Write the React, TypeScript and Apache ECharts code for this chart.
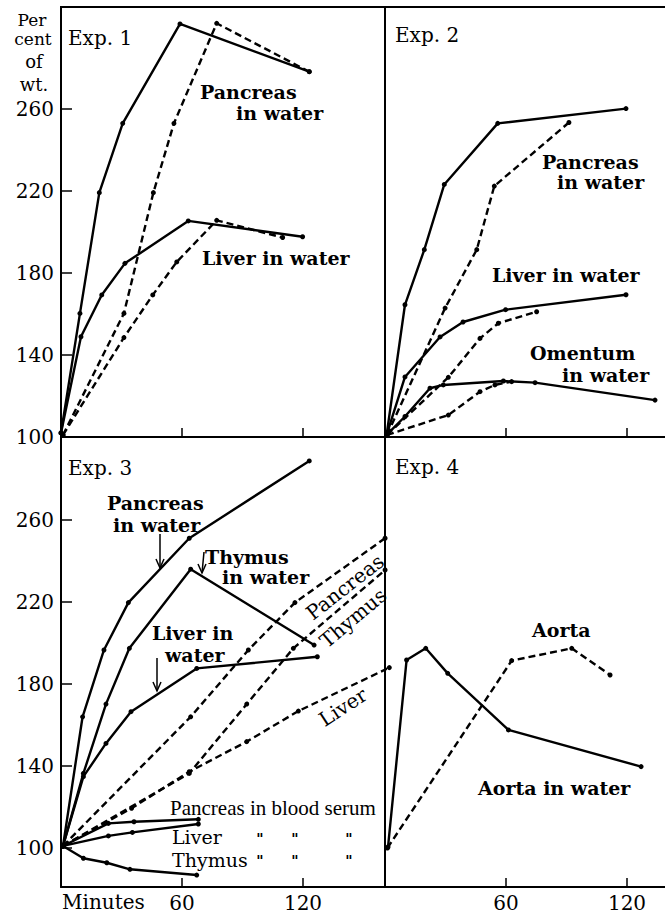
import React, { useEffect, useRef } from "react";
import * as echarts from "echarts";

// ---- Data: [minutes, percent of original weight] ----
// Exp. 1
const exp1PancreasWater = [[0, 102], [9.4, 160.3], [19, 219.2], [30.6, 253], [59, 301.5], [123.1, 278.2]];
const exp1PancreasDashed = [[1, 101], [31.2, 160.3], [45.8, 219.2], [56, 253], [77.2, 301.8], [123.1, 278.2]];
const exp1LiverWater = [[0, 102], [9.9, 148.9], [20.2, 169.3], [31.7, 184.7], [63.1, 205.4], [119.8, 197.7]];
const exp1LiverDashed = [[1, 101], [31.2, 148.5], [45.5, 169.3], [57.4, 185.4], [77.2, 205.7], [109.9, 197.3]];
// Exp. 2
const exp2PancreasWater = [[0.8, 101], [9.9, 164.5], [19.5, 191.4], [29.4, 223.2], [55.9, 253], [119.5, 260.2]];
const exp2PancreasDashed = [[1, 101], [29.8, 162.9], [45.5, 191.4], [54.2, 222.4], [91.2, 253.4]];
const exp2LiverWater = [[0.8, 101], [9.9, 129.3], [27.3, 148.8], [38.7, 156.1], [59.8, 162.1], [119.5, 169.4]];
const exp2LiverDashed = [[1, 101], [31.4, 129.1], [47.1, 148.1], [56.2, 155.5], [75.2, 161.1]];
const exp2OmentumWater = [[0.8, 101], [9.9, 110], [22.3, 123.8], [28.9, 125.4], [58.7, 127.3], [74.4, 126.5], [133.9, 118]];
const exp2OmentumDashed = [[1, 101], [31.4, 110.7], [47.1, 122.1], [54.5, 125.4], [62.8, 127]];
// Exp. 3
const exp3PancreasWater = [[1, 101], [10.7, 164], [21.3, 196.6], [33.4, 219.7], [63.6, 251.1], [123.1, 288.8]];
const exp3ThymusWater = [[1, 101], [11.1, 136.4], [22.3, 170.2], [33.9, 197.4], [64.3, 236], [125.5, 199]];
const exp3LiverWater = [[1, 101], [11.1, 134.8], [22.3, 151], [34.7, 166.5], [67.3, 187.6], [127.1, 193.3]];
const exp3PancreasDashed = [[1, 101], [64.3, 164], [92.9, 196.6], [116, 219.7], [160.7, 251.1]];
const exp3ThymusDashed = [[1, 101], [63.6, 136.4], [92.1, 170.2], [115.2, 197.4], [160.7, 235.6]];
const exp3LiverDashed = [[1, 101], [35, 119.4], [63.6, 137.2], [92.1, 151.9], [117.7, 166.8], [162.8, 188]];
const exp3PancreasSerum = [[1, 101], [23.5, 112], [36.2, 112.8], [68.1, 114]];
const exp3LiverSerum = [[1, 101], [23.5, 105.9], [35.4, 107.6], [68.1, 111.7]];
const exp3ThymusSerum = [[1, 101], [11.1, 95], [22.7, 92.8], [34.2, 89.6], [67.3, 86.8]];
// Exp. 4
const exp4AortaWater = [[1.5, 100.5], [10.7, 191.7], [20.2, 197.4], [31.1, 185.2], [61.2, 157.6], [127, 139.7]];
const exp4AortaDashed = [[1.2, 100], [62.8, 191.4], [92.6, 197.4], [111.6, 184.4]];

// Tick labels
const xTickValues = [60, 120];
const yTickValues = [100, 140, 180, 220, 260];

const FONT = '"DejaVu Serif", serif';
const BLACK = "#000";

function line(data: number[][], grid: number, dashed: boolean) {
  return {
    type: "line",
    xAxisIndex: grid,
    yAxisIndex: grid,
    data,
    clip: false,
    symbol: "circle",
    symbolSize: 5,
    itemStyle: { color: BLACK },
    lineStyle: { color: BLACK, width: 2.4, type: dashed ? [7, 4] : "solid" },
  };
}

function txt(text: string, x: number, y: number, opts: any = {}) {
  return {
    type: "text",
    x,
    y,
    rotation: opts.rotation || 0,
    style: {
      text,
      fill: BLACK,
      font: `${opts.bold ? "bold " : ""}${opts.size || 19}px ${opts.family || FONT}`,
      textAlign: opts.align || "left",
      textVerticalAlign: "middle",
    },
  };
}

function arrow(x1: number, y1: number, x2: number, y2: number) {
  return [
    { type: "line", shape: { x1, y1, x2, y2 }, style: { stroke: BLACK, lineWidth: 1.5 } },
    {
      type: "polyline",
      shape: { points: [[x2 - 4, y2 - 9], [x2, y2], [x2 + 4, y2 - 9]] },
      style: { stroke: BLACK, lineWidth: 1.5, fill: "none" },
    },
  ];
}

export default function App() {
  const ref = useRef<HTMLDivElement>(null);
  useEffect(() => {
    if (!ref.current) return;
    const chart = echarts.init(ref.current, null, { renderer: "svg" });
    const L = 61, M = 385, R = 665, T = 7, MID = 437, B = 887;
    const pxPerMin = 121 / 60;
    const pxPerUnit = 2.05;
    const grids = [
      { left: L, top: T, width: M - L, height: MID - T },
      { left: M, top: T, width: R - M, height: MID - T },
      { left: L, top: MID, width: M - L, height: B - MID },
      { left: M, top: MID, width: R - M, height: B - MID },
    ];
    const yMinTop = 100, yMaxTop = 100 + (MID - T) / pxPerUnit;
    const yMinBot = 100 - 39 / pxPerUnit, yMaxBot = yMinBot + (B - MID) / pxPerUnit;
    const xAxes = grids.map((g, i) => ({
      gridIndex: i,
      type: "value",
      min: 0,
      max: g.width / pxPerMin,
      axisLine: { show: true, onZero: false, lineStyle: { color: BLACK, width: 2 } },
      axisTick: { show: true, inside: true, length: 9, customValues: xTickValues, lineStyle: { color: BLACK, width: 1.5 } },
      axisLabel: {
        show: i >= 2,
        customValues: xTickValues,
        color: BLACK,
        fontFamily: FONT,
        fontSize: 20,
        margin: 6,
      },
      splitLine: { show: false },
    }));
    const yAxes = grids.map((g, i) => ({
      gridIndex: i,
      type: "value",
      min: i < 2 ? yMinTop : yMinBot,
      max: i < 2 ? yMaxTop : yMaxBot,
      axisLine: { show: true, onZero: false, lineStyle: { color: BLACK, width: 2 } },
      axisTick: { show: i % 2 === 0, inside: true, length: 11, customValues: yTickValues, lineStyle: { color: BLACK, width: 1.5 } },
      axisLabel: {
        show: i % 2 === 0,
        customValues: yTickValues,
        color: BLACK,
        fontFamily: FONT,
        fontSize: 20,
        margin: 7,
      },
      splitLine: { show: false },
    }));

    const lab = { bold: true, size: 19 };
    const graphic: any[] = [
      { type: "line", shape: { x1: L - 1, y1: T, x2: R, y2: T }, style: { stroke: BLACK, lineWidth: 2 } },
      // y-axis title
      txt("Per", 32, 20, { align: "center", size: 17 }),
      txt("cent", 33, 39, { align: "center", size: 17 }),
      txt("of", 34, 61, { align: "center", size: 18 }),
      txt("wt.", 34, 84, { align: "center", size: 18 }),
      // Exp 1
      txt("Exp. 1", 68, 38, { size: 20 }),
      txt("Pancreas", 200, 92, lab),
      txt("in water", 236, 113, lab),
      txt("Liver in water", 202, 258, lab),
      // Exp 2
      txt("Exp. 2", 395, 35, { size: 20 }),
      txt("Pancreas", 542, 162, lab),
      txt("in water", 557, 182, lab),
      txt("Liver in water", 492, 275, lab),
      txt("Omentum", 530, 353, lab),
      txt("in water", 562, 375, lab),
      // Exp 3
      txt("Exp. 3", 68, 468, { size: 20 }),
      txt("Pancreas", 107, 503, lab),
      txt("in water", 113, 525, lab),
      txt("Thymus", 205, 557, lab),
      txt("in water", 222, 577, lab),
      txt("Liver in", 152, 633, lab),
      txt("water", 165, 655, lab),
      ...arrow(160, 534, 160, 568),
      ...arrow(204, 552, 202, 573),
      ...arrow(157, 658, 157, 691),
      txt("Pancreas", 345, 587, { align: "center", size: 20, rotation: (38 * Math.PI) / 180 }),
      txt("Thymus", 353, 618, { align: "center", size: 20, rotation: (40 * Math.PI) / 180 }),
      txt("Liver", 343, 707, { align: "center", size: 20, rotation: (33 * Math.PI) / 180 }),
      txt("Pancreas in blood serum", 170, 808, { family: '"Liberation Serif", serif', size: 21 }),
      txt("Liver", 172, 837, { size: 19 }),
      txt("Thymus", 172, 860, { size: 19 }),
      txt('"', 260, 839, { align: "center", size: 14, bold: true }),
      txt('"', 295, 839, { align: "center", size: 14, bold: true }),
      txt('"', 349, 839, { align: "center", size: 14, bold: true }),
      txt('"', 260, 861, { align: "center", size: 14, bold: true }),
      txt('"', 295, 861, { align: "center", size: 14, bold: true }),
      txt('"', 349, 861, { align: "center", size: 14, bold: true }),
      // Exp 4
      txt("Exp. 4", 395, 467, { size: 20 }),
      txt("Aorta", 532, 630, lab),
      txt("Aorta in water", 478, 788, lab),
      // x title
      txt("Minutes", 62, 902, { size: 20 }),
    ];

    chart.setOption({
      animation: false,
      backgroundColor: "#fff",
      grid: grids.map((g) => ({ ...g, containLabel: false, show: false })),
      xAxis: xAxes,
      yAxis: yAxes,
      series: [
        line(exp1PancreasWater, 0, false),
        line(exp1PancreasDashed, 0, true),
        line(exp1LiverWater, 0, false),
        line(exp1LiverDashed, 0, true),
        line(exp2PancreasWater, 1, false),
        line(exp2PancreasDashed, 1, true),
        line(exp2LiverWater, 1, false),
        line(exp2LiverDashed, 1, true),
        line(exp2OmentumWater, 1, false),
        line(exp2OmentumDashed, 1, true),
        line(exp3PancreasWater, 2, false),
        line(exp3ThymusWater, 2, false),
        line(exp3LiverWater, 2, false),
        line(exp3PancreasDashed, 2, true),
        line(exp3ThymusDashed, 2, true),
        line(exp3LiverDashed, 2, true),
        line(exp3PancreasSerum, 2, false),
        line(exp3LiverSerum, 2, false),
        line(exp3ThymusSerum, 2, false),
        line(exp4AortaWater, 3, false),
        line(exp4AortaDashed, 3, true),
      ],
      graphic,
    });
    return () => chart.dispose();
  }, []);
  return <div ref={ref} style={{ position: "absolute", left: 0, top: 0, width: 665, height: 915 }} />;
}
